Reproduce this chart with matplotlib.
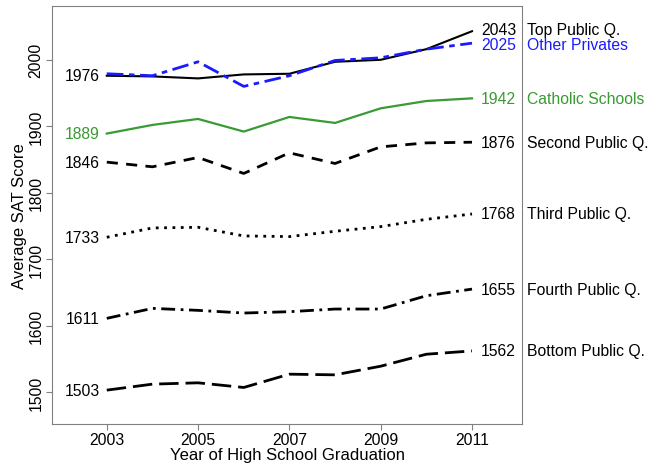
import matplotlib
matplotlib.use("Agg")
import matplotlib.pyplot as plt

# データ
years = [2003, 2004, 2005, 2006, 2007, 2008, 2009, 2010, 2011]

top_public = [1976, 1975, 1972, 1978, 1979, 1997, 2000, 2016, 2043]
other_privates = [1979, 1976, 1997, 1960, 1976, 1999, 2003, 2016, 2025]
catholic = [1889, 1902, 1911, 1892, 1914, 1905, 1927, 1938, 1942]
second_public = [1846, 1839, 1853, 1829, 1860, 1844, 1869, 1875, 1876]
third_public = [1733, 1747, 1748, 1735, 1734, 1742, 1749, 1760, 1768]
fourth_public = [1611, 1626, 1623, 1619, 1621, 1625, 1625, 1645, 1655]
bottom_public = [1503, 1512, 1514, 1507, 1527, 1526, 1539, 1557, 1562]

series_names = ["Top Public Q.", "Other Privates", "Catholic Schools",
                "Second Public Q.", "Third Public Q.", "Fourth Public Q.",
                "Bottom Public Q."]
series_values = [top_public, other_privates, catholic, second_public,
                 third_public, fourth_public, bottom_public]

x_ticks = [2003, 2005, 2007, 2009, 2011]
y_ticks = [1500, 1600, 1700, 1800, 1900, 2000]

GREEN = "#3a9a34"
# (色, 線種, 線幅, 左端の値を出すか, 右端ラベルの上下ずらし)
styles = [
    ("black", "-", 1.5, True, 2.5),
    ("#1a1aff", (0, (6, 2, 2, 2)), 2.0, False, -2.5),
    (GREEN, "-", 1.6, True, 0),
    ("black", (0, (4, 3)), 2.0, True, 0),
    ("black", (0, (1, 2)), 2.0, True, 0),
    ("black", (0, (5, 2, 1, 2)), 2.0, True, 0),
    ("black", (0, (7, 2.5)), 2.0, True, 0),
]

FS = 11.3
plt.rcParams['font.family'] = ['Liberation Sans', 'DejaVu Sans']

fig = plt.figure(figsize=(6.54, 4.64), dpi=100)
ax = fig.add_axes([0.0795, 0.084, 0.719, 0.901])

for vals, name, (color, ls, lw, show_start, dy) in zip(series_values, series_names, styles):
    ax.plot(years, vals, color=color, linestyle=ls, linewidth=lw)
    if show_start:
        ax.text(years[0] - 0.15, vals[0], f"{vals[0]}", color=color,
                ha="right", va="center", fontsize=FS)
    ax.text(years[-1] + 0.2, vals[-1] + dy, f"{vals[-1]}", color=color,
            ha="left", va="center", fontsize=FS)
    ax.text(2012.2, vals[-1] + dy, name, color=color, ha="left", va="center",
            fontsize=FS, clip_on=False)

ax.set_xlim(2001.8, 2012.1)
ax.set_ylim(1452, 2081)
ax.set_xticks(x_ticks)
ax.set_yticks(y_ticks)
ax.set_yticklabels([str(v) for v in y_ticks], rotation=90, va="center")
ax.tick_params(labelsize=FS, length=4, color="#808080", pad=2)
for s in ax.spines.values():
    s.set_color("#808080")
ax.set_xlabel("Year of High School Graduation", fontsize=12, labelpad=0)
ax.set_ylabel("Average SAT Score", fontsize=12, labelpad=1)

fig.savefig("out.png", dpi=100)
